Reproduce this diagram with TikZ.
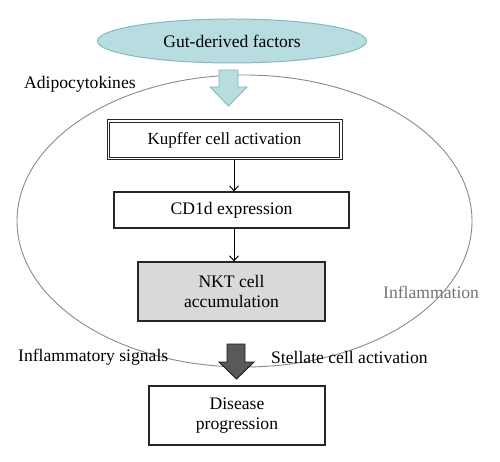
\documentclass[tikz,border=0pt]{standalone}
\usepackage{fontspec}
\setmainfont{Liberation Serif}
\usetikzlibrary{shapes.geometric,arrows.meta}
\definecolor{lblue}{HTML}{B7DDE0}
\definecolor{lblueline}{HTML}{86B8BE}
\definecolor{ringgray}{HTML}{8A8A8A}
\definecolor{boxgray}{HTML}{D9D9D9}
\definecolor{darkarrow}{HTML}{595959}
\tikzset{
  every node/.style={font=\fontsize{17.6}{21}\selectfont},
  flowbox/.style={draw=black!85, line width=1.1pt, rectangle, align=center, inner sep=0pt},
  thinarrow/.style={line width=0.9pt, -{Straight Barb[length=5pt,width=9pt]}},
  lbl/.style={inner sep=0pt, anchor=west},
}
\begin{document}
\begin{tikzpicture}[x=1pt,y=-1pt]
\useasboundingbox (0,0) rectangle (500,462);
% big ellipse
\node[ellipse, draw=ringgray, line width=0.9pt, minimum width=455pt, minimum height=292pt, inner sep=0pt] (liver) at (244.5,221) {};
% top ellipse
\node[ellipse, draw=lblueline, fill=lblue, line width=1pt, minimum width=269pt, minimum height=44pt, inner sep=0pt] (gut) at (232,41) {Gut-derived factors};
% light arrow
\filldraw[fill=lblue, draw=lblueline, line width=0.9pt]
  (219,70) -- (238,70) -- (238,87) -- (247,87) -- (228.5,106) -- (210,87) -- (219,87) -- cycle;
% boxes
\node[flowbox, line width=1pt, fill=white, minimum width=235pt, minimum height=40pt, font=\fontsize{17}{20}\selectfont] (kup) at (224.5,140) {Kupffer cell activation};
\draw[draw=black!85, line width=1pt] ([shift={(3.2pt,3.2pt)}]kup.south west) rectangle ([shift={(-3.2pt,-3.2pt)}]kup.north east);
\node[flowbox, minimum width=235pt, minimum height=36pt] (cd) at (231.5,210) {CD1d expression};
\node[flowbox, fill=boxgray, minimum width=187pt, minimum height=59pt] (nkt) at (231.5,291.5) {NKT cell\\[-1pt]accumulation};
\node[flowbox, fill=white, minimum width=176pt, minimum height=59pt] (dis) at (237,415.5) {Disease\\[-1pt]progression};
% thin arrows
\coordinate (ax) at (234,0);
\draw[thinarrow] (kup.south -| ax) -- (cd.north -| ax);
\draw[thinarrow] (cd.south -| ax) -- (nkt.north -| ax);
% labels
\node[lbl] (adipo) at (24,84) {Adipocytokines};
\node[lbl, text=black!55] (infl) at (383,292) {Inflammation};
\node[lbl] (isig) at (18,357) {Inflammatory signals};
\node[lbl] (stel) at (271,357) {Stellate cell activation};
% dark arrow
\filldraw[fill=darkarrow, draw=black!90, line width=0.9pt]
  (227,344) -- (245,344) -- (245,362) -- (254,362) -- (236.5,379) -- (219,362) -- (227,362) -- cycle;
\end{tikzpicture}
\end{document}
